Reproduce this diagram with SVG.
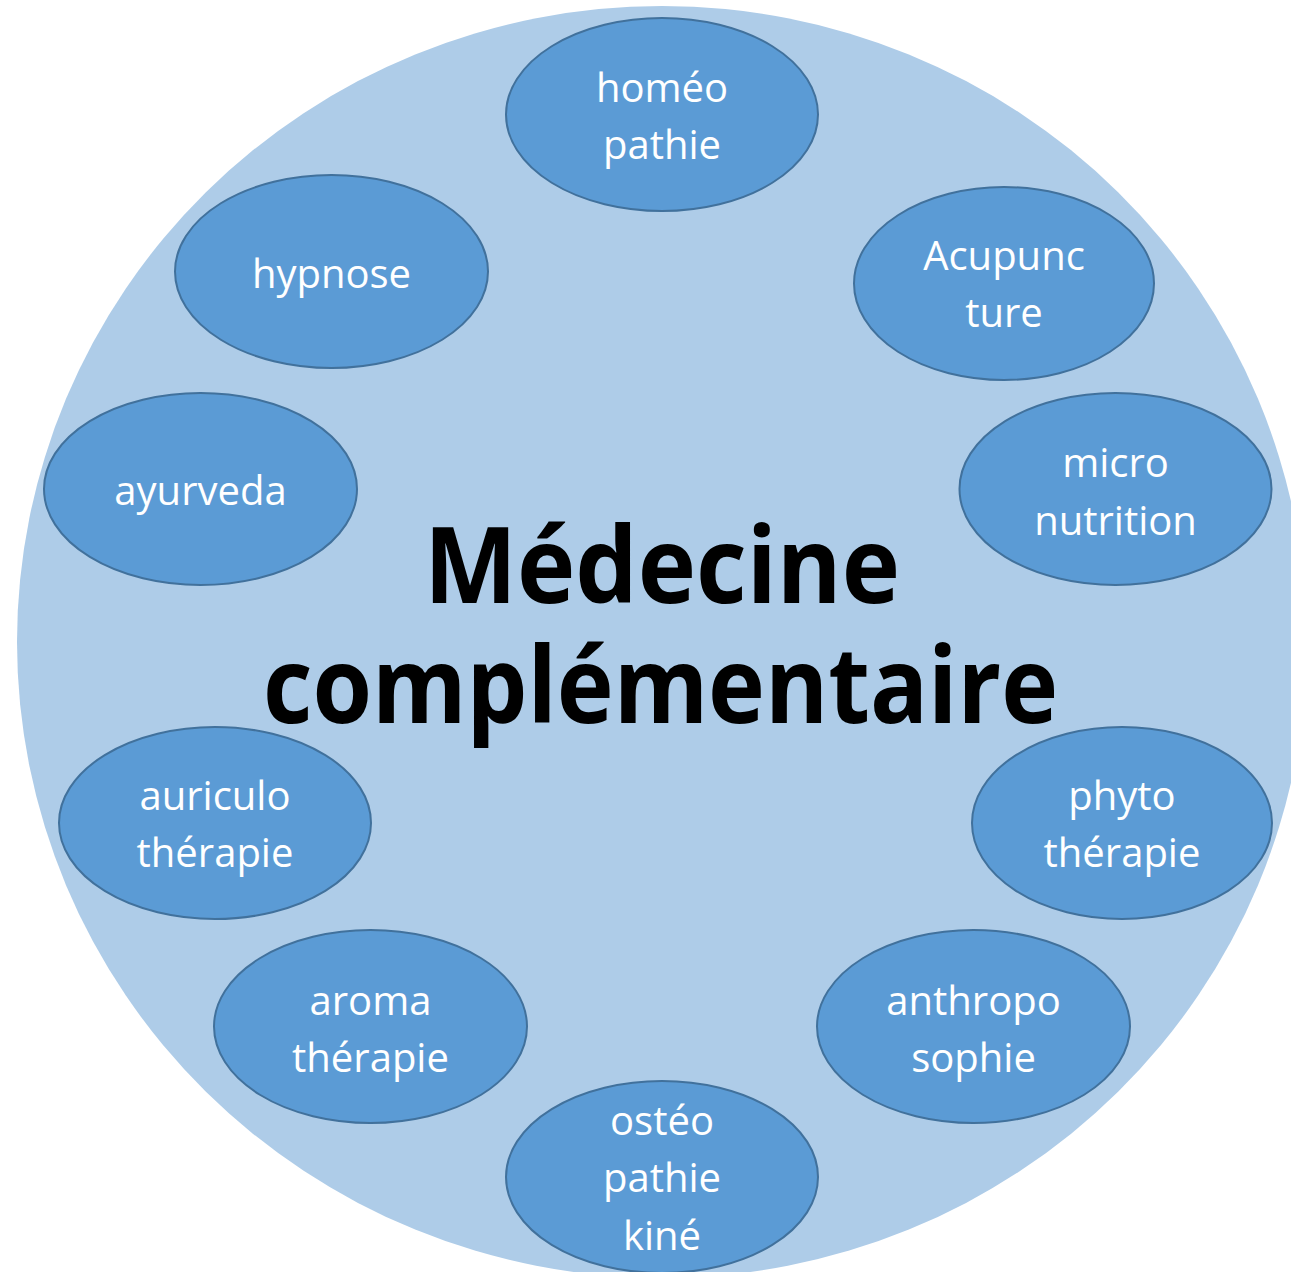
<svg xmlns="http://www.w3.org/2000/svg" width="1291" height="1272" viewBox="0 0 1291 1272">
<style>
.bg{fill:#AECCE8}
.node{fill:#5B9BD5;stroke:#41719C;stroke-width:2}
.lbl{font-family:"Open Sans","Noto Sans","Liberation Sans",sans-serif;font-size:40px;fill:#FFFFFF;text-anchor:middle}
.title{font-family:"Open Sans","Noto Sans","Liberation Sans",sans-serif;font-size:106px;font-weight:bold;fill:#000000;text-anchor:middle}
</style>
<rect width="1291" height="1272" fill="#FFFFFF"/>
<ellipse class="bg" cx="662" cy="642" rx="645" ry="636"/>
<g id="title">
<text class="title" x="662" y="603" textLength="476" lengthAdjust="spacingAndGlyphs">Médecine</text>
<text class="title" x="660.5" y="723" textLength="795" lengthAdjust="spacingAndGlyphs">complémentaire</text>
</g>
<g id="connectors"></g>
<g id="homeopathie"><ellipse class="node" cx="662" cy="114.5" rx="156" ry="96.5"/><text class="lbl" x="662" y="102">homéo</text><text class="lbl" x="662" y="159">pathie</text></g>
<g id="hypnose"><ellipse class="node" cx="331.5" cy="271.5" rx="156.5" ry="96.5"/><text class="lbl" x="331.5" y="288">hypnose</text></g>
<g id="acupuncture"><ellipse class="node" cx="1004" cy="283.5" rx="150" ry="96.5"/><text class="lbl" x="1004" y="270">Acupunc</text><text class="lbl" x="1004" y="327">ture</text></g>
<g id="ayurveda"><ellipse class="node" cx="200.5" cy="489" rx="156.5" ry="96"/><text class="lbl" x="200.5" y="505">ayurveda</text></g>
<g id="micronutrition"><ellipse class="node" cx="1115.5" cy="489" rx="156" ry="96"/><text class="lbl" x="1115.5" y="477">micro</text><text class="lbl" x="1115.5" y="535">nutrition</text></g>
<g id="auriculotherapie"><ellipse class="node" cx="215" cy="823" rx="156" ry="96"/><text class="lbl" x="215" y="810">auriculo</text><text class="lbl" x="215" y="867">thérapie</text></g>
<g id="phytotherapie"><ellipse class="node" cx="1122" cy="823" rx="150" ry="96"/><text class="lbl" x="1122" y="810">phyto</text><text class="lbl" x="1122" y="867">thérapie</text></g>
<g id="aromatherapie"><ellipse class="node" cx="370.5" cy="1026.5" rx="156.5" ry="96.5"/><text class="lbl" x="370.5" y="1015">aroma</text><text class="lbl" x="370.5" y="1072">thérapie</text></g>
<g id="anthroposophie"><ellipse class="node" cx="973.5" cy="1026.5" rx="156.5" ry="96.5"/><text class="lbl" x="973.5" y="1015">anthropo</text><text class="lbl" x="973.5" y="1072">sophie</text></g>
<g id="osteopathie"><ellipse class="node" cx="662" cy="1177" rx="156" ry="96"/><text class="lbl" x="662" y="1135">ostéo</text><text class="lbl" x="662" y="1192">pathie</text><text class="lbl" x="662" y="1250">kiné</text></g>
</svg>
